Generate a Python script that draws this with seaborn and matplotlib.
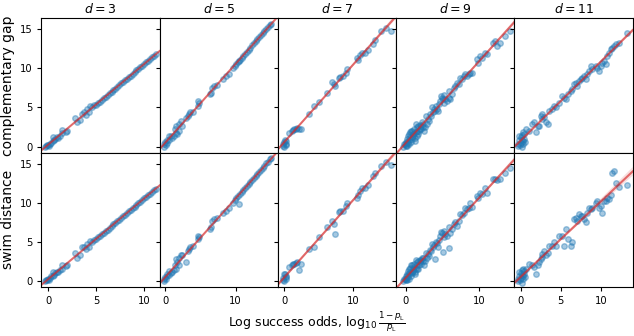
import numpy as np
import pandas as pd
import matplotlib
matplotlib.use('Agg')
from matplotlib import pyplot as plt
import seaborn as sns

distances = [3, 5, 7, 9, 11]
row_labels = ['complementary gap', 'swim distance']

# d = 3
d3_x = [-0.3, -0.2, -0.1, 0.0, 0.1, 0.2, 0.3, 0.45, 0.55, 0.6, 0.75, 0.9, 1.0, 1.2, 1.4, 1.45, 1.9, 2.0,
        2.8, 3.0, 3.3, 3.5, 3.7, 3.9, 4.0, 4.2, 4.4, 4.6, 4.8,
        5.0, 5.2, 5.4, 5.6, 5.8, 6.0, 6.2, 6.4, 6.6, 6.8, 7.0, 7.2, 7.4, 7.6, 7.8, 8.0,
        8.2, 8.4, 8.6, 8.8, 9.0, 9.2, 9.4, 9.6, 9.8, 10.0, 10.2, 10.4, 10.6, 10.8, 11.0, 11.2]
d3_gap = [0.0, 0.1, 0.15, 0.2, 0.1, 0.4, 0.5, 0.7, 1.2, 0.9, 1.0, 1.2, 1.1, 1.4, 2.1, 1.7, 1.9, 2.0,
          3.7, 3.1, 3.4, 4.15, 4.36, 4.1, 4.8, 4.4, 5.2, 5.0, 5.3,
          5.35, 5.58, 5.76, 5.99, 6.17, 6.40, 6.58, 6.83, 7.00, 7.24, 7.42, 7.66, 7.84, 8.07, 8.25, 8.49,
          8.67, 8.90, 9.08, 9.32, 9.50, 9.74, 9.92, 10.15, 10.33, 10.57, 10.75, 10.98, 11.16, 11.40, 11.58, 11.78]
d3_swim = [0.0, 0.1, 0.15, 0.2, 0.1, 0.4, 0.6, 0.7, 1.2, 0.8, 1.0, 1.1, 1.2, 1.4, 2.0, 1.6, 1.9, 2.0,
           3.6, 3.0, 3.3, 4.3, 4.4, 4.1, 4.7, 4.4, 5.1, 5.0, 5.3,
           5.33, 5.57, 5.75, 5.98, 6.16, 6.41, 6.57, 6.82, 7.01, 7.23, 7.43, 7.65, 7.85, 8.06, 8.26, 8.48,
           8.68, 8.89, 9.09, 9.31, 9.51, 9.73, 9.93, 10.14, 10.34, 10.56, 10.76, 10.97, 11.17, 11.39, 11.59, 11.77]

# d = 5
d5_x = [-0.2, -0.1, 0.0, 0.1, 0.2, 0.3, 0.5, 0.6, 0.8, 1.0, 1.2, 1.4, 1.5, 1.6, 1.75, 1.9, 2.0, 2.2,
        2.4, 2.9, 3.2, 3.4, 3.6, 3.9, 4.6, 4.7, 4.8, 6.3, 6.5, 6.7, 7.0, 7.4, 8.2, 8.6, 9.0,
        9.6, 9.85, 10.1, 10.35, 10.5, 10.6, 10.85, 11.1, 11.35, 11.6, 11.85, 12.1, 12.35, 12.6,
        12.85, 13.1, 13.35, 13.6, 13.85, 14.1, 14.35, 14.6, 14.85, 15.0]
d5_gap = [0.0, 0.3, 0.6, 0.2, 0.9, 0.5, 1.3, 0.8, 1.4, 1.1, 1.3, 2.3, 1.8, 2.6, 1.6, 2.0, 2.9, 3.3,
          2.6, 3.7, 3.9, 4.2, 4.4, 4.4, 5.2, 5.8, 5.6, 6.7, 6.9, 7.5, 7.75, 7.9, 8.6, 9.0, 9.3,
          10.03, 10.29, 10.55, 10.82, 10.97, 11.08, 11.34, 11.6, 11.86, 12.12, 12.38, 12.64, 12.91, 13.17,
          13.43, 13.69, 13.95, 14.21, 14.47, 14.73, 15.0, 15.26, 15.52, 15.68]
d5_swim = [0.0, 0.3, 0.5, 0.2, 0.9, 0.6, 0.8, 1.3, 1.0, 1.2, 1.4, 2.1, 1.6, 2.8, 2.4, 2.0, 2.9, 3.3,
           3.3, 2.4, 3.9, 4.1, 4.3, 4.5, 5.4, 5.8, 5.6, 6.6, 6.9, 7.7, 7.9, 8.1, 8.7, 9.0, 9.3,
           10.0, 10.3, 10.54, 10.8, 9.85, 11.07, 11.35, 11.58, 11.87, 12.1, 12.4, 12.62, 12.92, 13.15,
           13.44, 13.67, 13.96, 14.2, 14.48, 14.71, 15.01, 15.24, 15.53, 15.66]

# d = 7
d7_x = [-0.2, -0.1, 0.0, 0.0, 0.1, 0.2, 0.2, 0.3, 0.7, 1.1, 1.3, 1.5, 1.7, 1.9, 2.1, 2.4,
        3.6, 4.4, 5.1, 6.3, 6.9, 7.2, 7.4, 8.0, 8.2, 8.6, 9.0, 9.1,
        10.6, 10.8, 11.0, 11.4, 11.8, 12.2, 12.9, 13.2, 14.1, 14.8, 15.5]
d7_gap = [0.1, 0.3, 0.0, 0.6, 0.9, 0.4, 0.2, 0.7, 1.8, 2.0, 2.1, 2.2, 2.3, 2.4, 2.3, 2.2,
          4.15, 5.2, 5.7, 6.9, 8.3, 8.0, 7.75, 8.7, 8.9, 9.0, 9.4, 9.9,
          11.3, 11.0, 11.7, 12.0, 12.0, 12.3, 13.1, 13.6, 14.7, 15.2, 14.7]
d7_swim = [0.1, 0.4, 0.0, 0.9, 0.9, 0.5, 0.2, 0.6, 1.8, 2.0, 2.2, 2.2, 2.3, 2.4, 1.4, 2.2,
           4.1, 4.3, 5.6, 6.85, 7.7, 7.3, 6.0, 8.75, 8.9, 9.0, 9.6, 9.9,
           10.65, 11.0, 11.5, 11.9, 11.9, 12.3, 13.4, 13.8, 14.7, 15.2, 14.75]

# d = 9
d9_x = [-0.32, -0.2, -0.14, 0.0, 0.0, 0.1, 0.13, 0.2, 0.22, 0.3, 0.31, 0.4, 0.45, 0.5, 0.58, 0.6,
        0.67, 0.76, 0.8, 0.9, 0.9, 1.0, 1.03, 1.1, 1.12, 1.21, 1.3, 1.35, 1.4, 1.48, 1.57, 1.6,
        1.66, 1.7, 1.8, 1.9, 1.93, 2.02, 2.1, 2.25, 2.38, 2.4, 2.47, 2.6, 2.7, 2.92, 3.15,
        3.0, 3.37, 3.5, 3.6, 3.73, 3.82, 4.05, 4.19, 4.27, 4.4, 4.5, 4.73, 4.81, 4.95, 5.08, 5.17,
        5.26, 5.4, 5.62, 5.85, 5.85, 6.08, 6.3, 6.53, 6.75, 6.98, 7.2, 7.43, 7.65, 7.88, 8.1, 8.33,
        8.55, 8.78, 9.0, 9.68, 9.9, 10.13, 10.35, 10.8, 11.03, 11.93, 12.16, 12.38, 12.83, 13.5, 14.18]
d9_gap = [-0.08, 0.3, 0.34, 0.63, 0.1, 0.2, 0.97, 0.6, 0.13, 0.5, 1.4, 0.3, 1.61, 0.9, 1.82, 1.2,
          0.55, 2.03, 1.0, 1.19, 2.0, 1.3, 1.61, 1.7, 2.25, 0.76, 1.1, 1.82, 2.9, 2.46, 1.4, 2.0,
          2.67, 1.6, 2.03, 2.3, 2.75, 2.25, 2.6, 3.1, 2.46, 2.9, 2.03, 2.5, 3.94, 2.88, 3.3,
          3.5, 4.15, 3.9, 5.0, 4.36, 4.79, 4.57, 5.21, 4.79, 4.5, 5.42, 5.84, 6.48, 6.27, 6.06, 5.63,
          6.56, 6.06, 5.84, 6.27, 7.12, 6.06, 6.69, 7.54, 7.75, 8.17, 7.96, 8.81, 8.6, 9.02, 9.24, 9.02,
          9.24, 9.45, 9.36, 11.14, 10.72, 11.57, 11.35, 12.0, 11.78, 13.26, 13.47, 12.83, 13.26, 14.1, 14.74]
d9_swim = [-0.05, 0.3, 0.3, 0.6, 0.1, 0.2, 0.9, 0.6, 0.1, 0.5, 1.3, 0.3, 1.5, 0.9, 1.7, 1.2,
           0.6, 2.0, 1.0, 1.1, 2.1, 1.3, 1.5, 1.8, 2.2, 0.9, 1.2, 1.7, 2.7, 2.4, 1.5, 2.1,
           2.6, 1.6, 2.0, 2.4, 2.7, 2.2, 2.7, 3.0, 2.5, 3.0, 2.1, 2.6, 3.6, 2.9, 3.2,
           3.4, 4.0, 3.8, 4.7, 4.3, 4.6, 2.84, 5.0, 4.8, 4.4, 5.3, 5.7, 6.2, 6.1, 3.68, 5.6,
           6.4, 6.0, 5.7, 4.18, 6.9, 6.1, 6.6, 7.3, 7.6, 7.06, 7.7, 8.6, 8.4, 8.7, 9.38, 9.17,
           9.3, 10.0, 9.4, 10.9, 10.6, 11.3, 11.1, 11.9, 11.3, 12.98, 13.0, 12.9, 12.98, 13.8, 14.45]

# d = 11
d11_x = [-0.41, -0.3, -0.2, -0.2, -0.1, 0.0, 0.0, 0.1, 0.1, 0.2, 0.21, 0.3, 0.3, 0.4, 0.42, 0.5,
         0.63, 1.05, 1.46, 1.67, 1.88, 2.09, 2.3, 2.5, 2.63, 2.71, 2.92, 3.13, 3.34, 3.55, 3.96,
         4.17, 4.38, 4.8, 5.21, 5.42, 5.63, 5.84, 6.25, 6.46, 6.67, 6.88, 7.09, 7.3, 7.5, 7.71,
         7.92, 8.13, 8.34, 8.55, 8.75, 8.96, 9.38, 9.59, 9.8, 10.0, 10.21, 10.42, 10.63, 10.84, 11.05,
         11.25, 11.46, 11.67, 11.88, 12.3, 13.34]
d11_gap = [0.1, 0.4, 0.8, 1.4, 0.2, 1.2, 0.5, 0.0, 0.9, 1.5, 0.7, 0.3, 1.9, 1.0, 1.6, 0.6,
           2.25, 2.03, 2.88, 3.1, 1.82, 2.67, 2.67, 3.94, 4.15, 3.52, 3.73, 3.1, 2.88, 4.57, 4.79,
           5.21, 5.0, 5.63, 6.48, 6.27, 6.06, 6.69, 7.12, 7.33, 7.96, 8.17, 7.75, 8.38, 8.6, 8.81,
           9.02, 8.6, 9.24, 9.66, 10.29, 9.87, 10.29, 10.08, 9.66, 10.29, 10.72, 10.93, 10.5, 11.57, 12.0,
           12.41, 12.62, 12.83, 13.05, 13.26, 14.53]
d11_swim = [0.0, 0.3, 0.7, 1.2, 0.1, 1.0, 0.4, -0.2, 0.8, 1.4, 0.6, 0.2, 1.5, 0.9, 1.3, 0.5,
            1.56, 2.2, 1.99, 1.77, 0.93, 1.99, 2.41, 2.83, 3.47, 3.04, 3.89, 3.3, 3.6, 4.52, 4.52,
            4.94, 4.52, 5.79, 5.79, 4.52, 6.63, 5.37, 4.52, 4.94, 7.9, 8.1, 7.7, 8.53, 8.32, 8.32,
            7.9, 7.48, 8.74, 9.38, 9.17, 9.38, 10.0, 10.23, 9.38, 9.6, 8.74, 10.2, 10.23, 10.65, 10.44,
            11.0, 13.82, 14.03, 12.56, 12.0, 12.2]

xs = [d3_x, d5_x, d7_x, d9_x, d11_x]
gaps = [d3_gap, d5_gap, d7_gap, d9_gap, d11_gap]
swims = [d3_swim, d5_swim, d7_swim, d9_swim, d11_swim]

xlims = [(-0.73, 11.6), (-0.8, 16.0), (-0.92, 16.3), (-1.3, 14.8), (-0.8, 14.0)]
xticks = [[0, 5, 10], [0, 10], [0, 10], [0, 10], [0, 5, 10]]

fig, axes = plt.subplots(2, 5, figsize=(6.34, 3.36), dpi=100, sharex='col', sharey=True)
fig.subplots_adjust(left=0.065, right=0.998, top=0.946, bottom=0.146, wspace=0, hspace=0)

for j, d in enumerate(distances):
    df = pd.DataFrame({'x': xs[j], 'gap': gaps[j], 'swim': swims[j]})
    for i, col in enumerate(['gap', 'swim']):
        ax = axes[i, j]
        ax.set_xlim(*xlims[j])
        ax.set_ylim(-0.75, 16.4)
        sns.regplot(data=df, x='x', y=col, ax=ax, truncate=False, seed=0,
                    scatter_kws=dict(s=16, alpha=0.4, color='tab:blue'),
                    line_kws=dict(color='tab:red', alpha=0.65, lw=1.5))
        ax.set_xlim(*xlims[j])
        ax.set_ylim(-0.75, 16.4)
        ax.set_xticks(xticks[j])
        ax.set_yticks([0, 5, 10, 15])
        ax.tick_params(labelsize=7.2, length=3)
        ax.set_xlabel('')
        ax.set_ylabel(row_labels[i] if j == 0 else '', fontsize=10, labelpad=3)
    axes[0, j].set_title(f'$d = {d}$', fontsize=9, pad=4)

fig.supxlabel(r'Log success odds, $\log_{10}\frac{1-p_\mathrm{L}}{p_\mathrm{L}}$', fontsize=9, y=0.004)
plt.savefig('out.png', dpi=100)
